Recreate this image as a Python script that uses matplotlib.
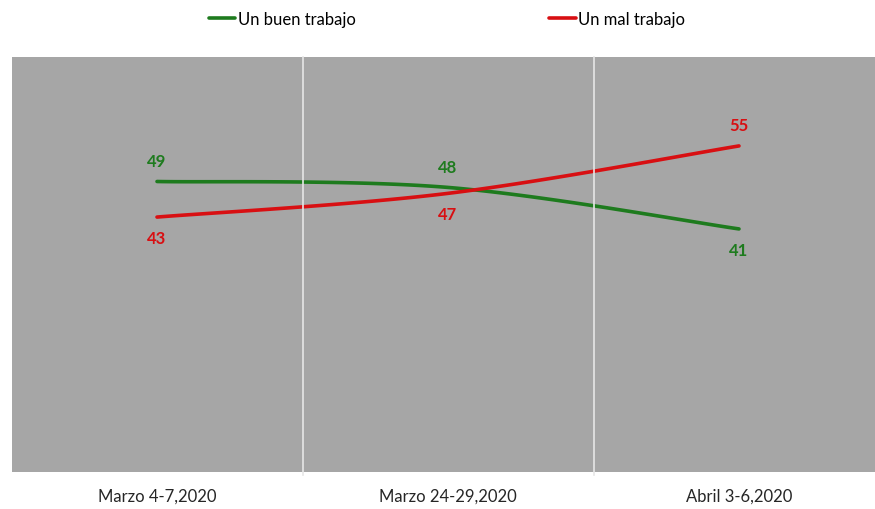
import numpy as np
import matplotlib
matplotlib.use('Agg')
import matplotlib.pyplot as plt

plt.rcParams['font.family'] = ['Lato', 'DejaVu Sans']

# datos
fechas = ['Marzo 4-7,2020', 'Marzo 24-29,2020', 'Abril 3-6,2020']
buen_trabajo = [49, 48, 41]
mal_trabajo = [43, 47, 55]

verde = '#1e7b1e'
rojo = '#d80f12'


def suavizar(x, y, n=60):
    # curva tipo Excel (Bezier con tension 1/6)
    x = np.asarray(x, float)
    y = np.asarray(y, float)
    px, py = [], []
    for i in range(len(x) - 1):
        x0, y0 = (x[i - 1], y[i - 1]) if i > 0 else (x[i], y[i])
        x3, y3 = (x[i + 2], y[i + 2]) if i + 2 < len(x) else (x[i + 1], y[i + 1])
        c1x = x[i] + (x[i + 1] - x0) / 6
        c1y = y[i] + (y[i + 1] - y0) / 6
        c2x = x[i + 1] - (x3 - x[i]) / 6
        c2y = y[i + 1] - (y3 - y[i]) / 6
        t = np.linspace(0, 1, n)
        px.extend((1 - t) ** 3 * x[i] + 3 * (1 - t) ** 2 * t * c1x + 3 * (1 - t) * t ** 2 * c2x + t ** 3 * x[i + 1])
        py.extend((1 - t) ** 3 * y[i] + 3 * (1 - t) ** 2 * t * c1y + 3 * (1 - t) * t ** 2 * c2y + t ** 3 * y[i + 1])
    return px, py


fig = plt.figure(figsize=(8.75, 5.10), dpi=100)
ax = fig.add_axes([11.5 / 875, 1 - 473 / 510, 873 / 875, 415 / 510])
ax.set_facecolor('#a6a6a6')

xs = np.arange(len(fechas))
sx, sy = suavizar(xs, buen_trabajo)
ax.plot(sx, sy, color=verde, lw=2.6, label='Un buen trabajo', solid_capstyle='round')
sx, sy = suavizar(xs, mal_trabajo)
ax.plot(sx, sy, color=rojo, lw=2.6, label='Un mal trabajo', solid_capstyle='round')

# etiquetas de datos
pos_verde = [1, 1, -1]
pos_rojo = [-1, -1, 1]
for i in range(len(fechas)):
    ax.annotate(str(buen_trabajo[i]), (xs[i], buen_trabajo[i]), xytext=(0, 15 * pos_verde[i]),
                textcoords='offset points', ha='center', va='center', color=verde,
                fontsize=12, fontweight='bold')
    ax.annotate(str(mal_trabajo[i]), (xs[i], mal_trabajo[i]), xytext=(0, 15 * pos_rojo[i]),
                textcoords='offset points', ha='center', va='center', color=rojo,
                fontsize=12, fontweight='bold')

ax.set_xlim(-0.5, 2.5)
ax.set_ylim(0, 70)
ax.set_yticks([])
ax.set_xticks(xs)
ax.set_xticklabels(fechas, fontsize=12, color='#262626')
ax.tick_params(axis='x', length=0, pad=11)
for s in [0.5, 1.5]:
    ax.axvline(s, color='#e6e6e6', lw=1.2, ymin=-0.008, clip_on=False)
for sp in ax.spines.values():
    sp.set_visible(False)

fig.legend(loc='upper center', bbox_to_anchor=(447 / 875, 1.0), ncol=2, frameon=False,
           fontsize=12, handlelength=1.6, handletextpad=0.15, columnspacing=11.6,
           borderaxespad=0.3)

plt.savefig('out.png', dpi=100)
